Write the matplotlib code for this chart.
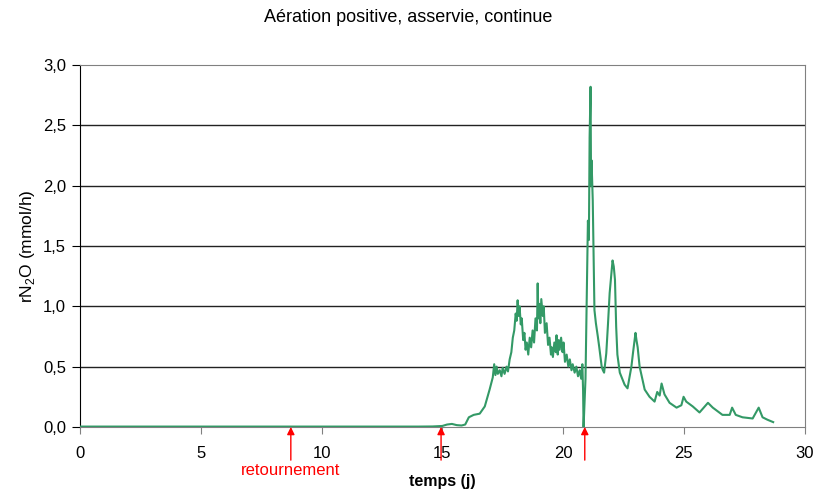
import matplotlib
matplotlib.use('Agg')
import matplotlib.pyplot as plt
from matplotlib.ticker import FuncFormatter

plt.rcParams['font.family'] = ['Liberation Sans', 'DejaVu Sans']
plt.rcParams['mathtext.fontset'] = 'custom'
plt.rcParams['mathtext.rm'] = 'Liberation Sans'

# N2O production rate vs time (days)
temps = [0.0, 1.0, 2.0, 3.0, 4.0, 5.0, 6.0, 7.0, 8.0, 9.0, 10.0, 11.0, 12.0, 13.0, 14.0,
         14.6, 15.0, 15.2, 15.4, 15.6, 15.8, 15.95, 16.1, 16.3, 16.55, 16.76, 16.96,
         17.09, 17.15, 17.2, 17.25, 17.3, 17.38, 17.45, 17.5, 17.58, 17.66, 17.72,
         17.79, 17.86, 17.92, 17.98, 18.04, 18.08, 18.12, 18.16, 18.2, 18.25, 18.29,
         18.35, 18.4, 18.45, 18.5, 18.56, 18.62, 18.68, 18.74, 18.8, 18.86, 18.92,
         18.95, 18.98, 19.02, 19.06, 19.1, 19.16, 19.2, 19.25, 19.32, 19.38, 19.44,
         19.5, 19.53, 19.58, 19.64, 19.7, 19.73, 19.78, 19.82, 19.86, 19.92, 19.98,
         20.02, 20.08, 20.15, 20.22, 20.28, 20.35, 20.4, 20.48, 20.55, 20.62, 20.69,
         20.75, 20.8, 20.83, 20.85, 20.88, 20.93, 20.98, 21.03, 21.07, 21.1, 21.14,
         21.16, 21.18, 21.23, 21.3, 21.36, 21.44, 21.5, 21.6, 21.65, 21.7, 21.79,
         21.86, 21.93, 21.98, 22.05, 22.1, 22.15, 22.2, 22.25, 22.35, 22.55, 22.67,
         22.83, 22.9, 23.0, 23.04, 23.09, 23.17, 23.38, 23.58, 23.79,
         23.9, 24.0, 24.08, 24.2, 24.41, 24.7, 24.9, 24.99, 25.1, 25.37, 25.65, 26.0,
         26.2, 26.6, 26.9, 27.0, 27.15, 27.43, 27.85, 28.1, 28.26, 28.46, 28.7]
rN2O = [0.003, 0.003, 0.003, 0.003, 0.003, 0.003, 0.003, 0.003, 0.003, 0.003, 0.003, 0.003, 0.003, 0.003, 0.003,
        0.004, 0.008, 0.02, 0.025, 0.015, 0.012, 0.02, 0.08, 0.1, 0.11, 0.17, 0.31,
        0.41, 0.52, 0.43, 0.5, 0.44, 0.47, 0.42, 0.49, 0.44, 0.5, 0.46,
        0.56, 0.62, 0.74, 0.8, 0.94, 0.88, 1.05, 0.92, 1.0, 0.85, 0.9,
        0.72, 0.78, 0.64, 0.7, 0.6, 0.74, 0.66, 0.8, 0.7, 0.9, 0.8,
        1.19, 0.9, 1.02, 0.86, 1.06, 0.92, 1.0, 0.78, 0.86, 0.68, 0.74,
        0.6, 0.66, 0.58, 0.7, 0.62, 0.76, 0.6, 0.72, 0.64, 0.74, 0.62,
        0.7, 0.54, 0.6, 0.5, 0.56, 0.47, 0.52, 0.45, 0.5, 0.42, 0.47,
        0.4, 0.52, 0.3, 0.0, 0.15, 0.4, 1.05, 1.71, 1.55, 2.4, 2.82,
        2.0, 2.21, 1.88, 0.97, 0.86, 0.75, 0.66, 0.5, 0.47, 0.45, 0.61,
        0.85, 1.11, 1.22, 1.38, 1.33, 1.22, 0.83, 0.6, 0.45, 0.35, 0.32,
        0.5, 0.62, 0.78, 0.72, 0.66, 0.5, 0.31, 0.25, 0.21,
        0.29, 0.26, 0.36, 0.27, 0.2, 0.16, 0.18, 0.25, 0.21, 0.17, 0.12, 0.2,
        0.16, 0.1, 0.1, 0.16, 0.1, 0.08, 0.07, 0.16, 0.08, 0.06, 0.04]

fleches = [8.73, 14.95, 20.9]

fig = plt.figure(figsize=(8.16, 4.93), dpi=100)
ax = fig.add_axes([0.098, 0.134, 0.888, 0.734])

for y in [0.5, 1.0, 1.5, 2.0, 2.5]:
    ax.axhline(y, color='#222222', lw=1, zorder=1)

ax.plot(temps, rN2O, color='#339966', lw=1.5, zorder=3)

ax.set_xlim(0, 30)
ax.set_ylim(0, 3)
ax.set_xticks(range(0, 31, 5))
ax.set_yticks([0, 0.5, 1.0, 1.5, 2.0, 2.5, 3.0])
ax.yaxis.set_major_formatter(FuncFormatter(lambda v, p: ('%.1f' % v).replace('.', ',')))

for s in ['top', 'right', 'bottom']:
    ax.spines[s].set_color('#808080')
ax.spines['left'].set_color('black')
ax.tick_params(axis='x', direction='out', length=5, color='#808080', labelsize=12, pad=9)
ax.tick_params(axis='y', direction='out', length=6, color='black', labelsize=12, pad=4)

ax.set_xlabel('temps (j)', fontsize=11.5, fontweight='bold', labelpad=9)
ax.set_ylabel(r'rN$_\mathregular{2}$O (mmol/h)', fontsize=12.5, labelpad=4)
fig.text(0.5, 0.965, 'Aération positive, asservie, continue', ha='center', va='center', fontsize=13)

for t in fleches:
    ax.annotate('', xy=(t, 0), xytext=(t, -0.275), annotation_clip=False,
                arrowprops=dict(arrowstyle='-|>', color='red', lw=1, mutation_scale=11,
                                shrinkA=0, shrinkB=0))
ax.text(fleches[0], -0.36, 'retournement', color='red', ha='center', va='center',
        fontsize=12, clip_on=False)

plt.savefig('out.png', dpi=100)
